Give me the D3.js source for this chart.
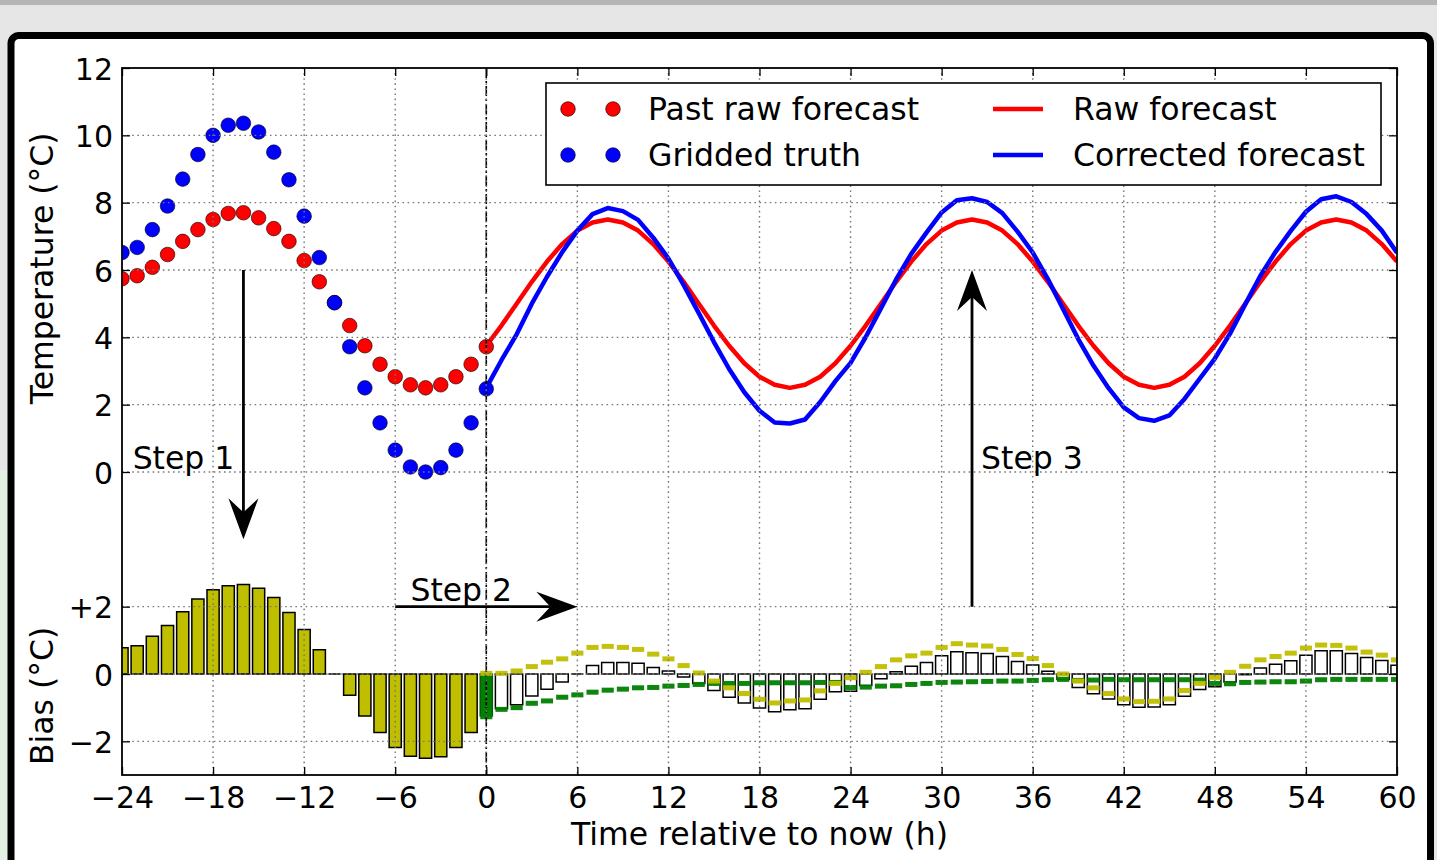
<!DOCTYPE html>
<html>
<head>
<meta charset="utf-8">
<script src="https://cdn.jsdelivr.net/npm/d3@7"></script>
<style>
  body { margin: 0; background: #e6e6e6; }
  svg { display: block; font-family: "DejaVu Sans", sans-serif; }
</style>
</head>
<body>
<svg id="chart" width="1437" height="860"></svg>
<script>
// ── Data ──────────────────────────────────────────────────────────────────────

const pastHours = [-24, -23, -22, -21, -20, -19, -18, -17, -16, -15, -14, -13, -12,
                   -11, -10, -9, -8, -7, -6, -5, -4, -3, -2, -1, 0];
const pastRaw   = [5.74, 5.83, 6.08, 6.46, 6.85, 7.20, 7.50, 7.68, 7.70, 7.55, 7.23, 6.85, 6.28,
                   5.65, 5.03, 4.35, 3.75, 3.20, 2.83, 2.59, 2.50, 2.59, 2.83, 3.20, 3.72];
const pastTruth = [6.52, 6.67, 7.20, 7.90, 8.70, 9.43, 10.00, 10.30, 10.36, 10.10, 9.50, 8.68, 7.60,
                   6.37, 5.03, 3.72, 2.50, 1.46, 0.65, 0.15, 0.00, 0.13, 0.65, 1.46, 2.47];

const futureHours = [0, 1, 2, 3, 4, 5, 6, 7, 8, 9, 10, 11, 12, 13, 14, 15, 16, 17, 18, 19, 20,
                     21, 22, 23, 24, 25, 26, 27, 28, 29, 30, 31, 32, 33, 34, 35, 36, 37, 38, 39, 40,
                     41, 42, 43, 44, 45, 46, 47, 48, 49, 50, 51, 52, 53, 54, 55, 56, 57, 58, 59, 60];
const rawForecast = [3.75, 4.35, 5.00, 5.65, 6.25, 6.77, 7.17, 7.41, 7.50, 7.41, 7.17, 6.77, 6.25,
                     5.65, 5.00, 4.35, 3.75, 3.23, 2.83, 2.59, 2.50, 2.59, 2.83, 3.23, 3.75,
                     4.35, 5.00, 5.65, 6.25, 6.77, 7.17, 7.41, 7.50, 7.41, 7.17, 6.77, 6.25,
                     5.65, 5.00, 4.35, 3.75, 3.23, 2.83, 2.59, 2.50, 2.59, 2.83, 3.23, 3.75,
                     4.35, 5.00, 5.65, 6.25, 6.77, 7.17, 7.41, 7.50, 7.41, 7.17, 6.77, 6.25];
// yellow dashes: diurnal part of the bias
const diurnalBias = [0.02, 0.02, 0.09, 0.22, 0.35, 0.45, 0.62, 0.79, 0.82, 0.79, 0.73, 0.59, 0.45,
                     0.25, 0.03, -0.21, -0.41, -0.58, -0.75, -0.86, -0.80, -0.77, -0.50, -0.28, -0.11,
                     0.05, 0.22, 0.42, 0.54, 0.62, 0.79, 0.90, 0.86, 0.83, 0.73, 0.58, 0.46,
                     0.25, 0.00, -0.21, -0.41, -0.58, -0.74, -0.82, -0.81, -0.74, -0.49, -0.28, -0.10,
                     0.05, 0.23, 0.42, 0.52, 0.62, 0.77, 0.86, 0.85, 0.77, 0.65, 0.56, 0.42];
// green dashes: persistent part of the bias
const persistBias = [-1.27, -1.05, -1.00, -0.87, -0.80, -0.69, -0.62, -0.54, -0.48, -0.45, -0.41, -0.40, -0.36,
                     -0.34, -0.31, -0.28, -0.28, -0.28, -0.26, -0.26, -0.26, -0.26, -0.25, -0.25, -0.40,
                     -0.39, -0.36, -0.35, -0.31, -0.28, -0.25, -0.24, -0.23, -0.22, -0.21, -0.21, -0.19,
                     -0.17, -0.16, -0.19, -0.18, -0.16, -0.17, -0.17, -0.17, -0.17, -0.17, -0.18, -0.28,
                     -0.29, -0.25, -0.24, -0.23, -0.23, -0.21, -0.17, -0.16, -0.16, -0.16, -0.16, -0.16];

const xTicks      = [-24, -18, -12, -6, 0, 6, 12, 18, 24, 30, 36, 42, 48, 54, 60];
const tempTicks   = [0, 2, 4, 6, 8, 10, 12];
const biasTicks   = [-2, 0, 2];
const biasLabels  = ['\u22122', '0', '+2'];

const steps = [
  { label: 'Step 1', tx: -23.3, ty: 0.1,   from: [-16, 6], to: [-16, -2] },
  { label: 'Step 2', tx: -5.0,  ty: -3.83, from: [-6, -4], to: [6, -4] },
  { label: 'Step 3', tx: 32.6,  ty: 0.1,   from: [32, -4], to: [32, 6] },
];

// ── Layout ────────────────────────────────────────────────────────────────────

const biasOffset = -6;   // bias panel zero sits at -6 on the shared axis
const L = 122, R = 1397, T = 68, B = 775;
const FS = 31.5;

const x = d3.scaleLinear().domain([-24, 60]).range([L, R]);
const y = d3.scaleLinear().domain([-9, 12]).range([B, T]);
const by = v => y(v + biasOffset);
const fmtMinus = v => (v < 0 ? '\u2212' + Math.abs(v) : String(v));

const svg = d3.select('#chart');

// page background + outer frame
svg.append('rect').attr('width', 1437).attr('height', 860).attr('fill', '#e6e6e6');
svg.append('rect').attr('width', 1437).attr('height', 5).attr('fill', '#b5b5b5');
svg.append('rect').attr('x', 0).attr('y', 470).attr('width', 8).attr('height', 390).attr('fill', '#e3f1e3');
svg.append('rect')
  .attr('x', 11).attr('y', 35.5).attr('width', 1419.5).attr('height', 900).attr('rx', 8)
  .attr('fill', '#fff').attr('stroke', '#000').attr('stroke-width', 7);

svg.append('clipPath').attr('id', 'plotClip')
  .append('rect').attr('x', L).attr('y', T).attr('width', R - L).attr('height', B - T);

const plot = svg.append('g').attr('clip-path', 'url(#plotClip)');

// ── Bias bars ─────────────────────────────────────────────────────────────────

const barPath = (h, v) =>
  `M${x(h - 0.4)},${by(0)}V${by(v)}H${x(h + 0.4)}V${by(0)}Z`;

const pastBias = pastHours
  .map((h, i) => ({ h, v: pastTruth[i] - pastRaw[i] }))
  .filter(d => d.h < 0);

plot.append('g').selectAll('path').data(pastBias).join('path')
  .attr('d', d => barPath(d.h, d.v))
  .attr('fill', '#bfbf00').attr('stroke', '#000').attr('stroke-width', 1.5);

const futureBias = futureHours.map((h, i) => ({
  h, v: diurnalBias[i] + persistBias[i], yel: diurnalBias[i], grn: persistBias[i],
}));

plot.append('g').selectAll('path').data(futureBias).join('path')
  .attr('d', d => barPath(d.h, d.v))
  .attr('fill', d => d.h === 0 ? '#008000' : '#fff')
  .attr('stroke', d => d.h === 0 ? '#0a5a0a' : '#000')
  .attr('stroke-width', 1.5);

const dash = (sel, key, color) => sel.selectAll('rect').data(futureBias).join('rect')
  .attr('x', d => x(d.h - 0.4))
  .attr('width', d => x(d.h + 0.4) - x(d.h - 0.4))
  .attr('y', d => by(d[key]) - 2.5)
  .attr('height', 5)
  .attr('fill', color).attr('opacity', 0.95);

dash(plot.append('g'), 'grn', '#008000');
dash(plot.append('g'), 'yel', '#bfbf00');

// ── Temperature ───────────────────────────────────────────────────────────────

const corrected = futureHours.map((h, i) => ({ h, v: rawForecast[i] + futureBias[i].v }));
const raw       = futureHours.map((h, i) => ({ h, v: rawForecast[i] }));

const line = d3.line().x(d => x(d.h)).y(d => y(d.v));

plot.append('path').datum(raw).attr('d', line)
  .attr('fill', 'none').attr('stroke', '#ff0000').attr('stroke-width', 4.5)
  .attr('stroke-linejoin', 'round');
plot.append('path').datum(corrected).attr('d', line)
  .attr('fill', 'none').attr('stroke', '#0000ff').attr('stroke-width', 4.5)
  .attr('stroke-linejoin', 'round');

plot.append('g').selectAll('circle').data(pastHours).join('circle')
  .attr('cx', h => x(h)).attr('cy', (h, i) => y(pastRaw[i])).attr('r', 7.3)
  .attr('fill', '#ff0000').attr('stroke', '#000').attr('stroke-width', 0.6);
plot.append('g').selectAll('circle').data(pastHours).join('circle')
  .attr('cx', h => x(h)).attr('cy', (h, i) => y(pastTruth[i])).attr('r', 7.3)
  .attr('fill', '#0000ff').attr('stroke', '#000').attr('stroke-width', 0.6);

// "now" marker
plot.append('line')
  .attr('x1', x(0)).attr('x2', x(0)).attr('y1', T).attr('y2', B)
  .attr('stroke', '#000').attr('stroke-width', 1.6).attr('stroke-dasharray', '10,3,2,3');

// ── Grid ──────────────────────────────────────────────────────────────────────

const yGridVals = tempTicks.concat(biasTicks.map(v => v + biasOffset));
const grid = svg.append('g')
  .attr('stroke', '#777').attr('stroke-width', 1.4).attr('stroke-dasharray', '1.6,3.5');
grid.selectAll('line.v').data(xTicks.slice(1, -1)).join('line').attr('class', 'v')
  .attr('x1', d => x(d)).attr('x2', d => x(d)).attr('y1', T).attr('y2', B);
grid.selectAll('line.h').data(yGridVals.filter(v => v !== 12)).join('line').attr('class', 'h')
  .attr('x1', L).attr('x2', R).attr('y1', d => y(d)).attr('y2', d => y(d));

// ── Axes ──────────────────────────────────────────────────────────────────────

const axes = svg.append('g').attr('font-size', FS);

const xAxis = axes.append('g').attr('transform', `translate(0,${B})`)
  .call(d3.axisBottom(x).tickValues(xTicks).tickSize(-8).tickPadding(0).tickFormat(fmtMinus));
xAxis.selectAll('text').attr('y', 33).attr('dy', 0).attr('font-size', 30)
  .attr('font-family', '"DejaVu Sans", sans-serif').attr('fill', '#000');

axes.append('g').attr('transform', `translate(0,${T})`)
  .call(d3.axisTop(x).tickValues(xTicks).tickSize(-8).tickFormat(''));

const yAxis = axes.append('g').attr('transform', `translate(${L},0)`)
  .call(d3.axisLeft(y).tickValues(yGridVals).tickSize(-8).tickPadding(0)
    .tickFormat(v => v >= 0 ? String(v) : biasLabels[biasTicks.indexOf(v - biasOffset)]));
yAxis.selectAll('text').attr('x', -9).attr('dy', 11).attr('font-size', 30)
  .attr('font-family', '"DejaVu Sans", sans-serif').attr('fill', '#000');

axes.append('g').attr('transform', `translate(${R},0)`)
  .call(d3.axisRight(y).tickValues(yGridVals).tickSize(-8).tickFormat(''));

axes.selectAll('.domain').remove();
axes.selectAll('.tick line').attr('stroke', '#000').attr('stroke-width', 1.3);

svg.append('rect').attr('x', L).attr('y', T).attr('width', R - L).attr('height', B - T)
  .attr('fill', 'none').attr('stroke', '#000').attr('stroke-width', 1.8);

svg.append('text').attr('x', (L + R) / 2).attr('y', 845).attr('text-anchor', 'middle')
  .attr('font-size', FS).text('Time relative to now (h)');
svg.append('text').attr('transform', `translate(53,${y(6.05)}) rotate(-90)`)
  .attr('text-anchor', 'middle').attr('font-size', FS).text('Temperature (°C)');
svg.append('text').attr('transform', `translate(53,${by(-0.65)}) rotate(-90)`)
  .attr('text-anchor', 'middle').attr('font-size', FS).text('Bias (°C)');

// ── Step arrows ───────────────────────────────────────────────────────────────

const ann = svg.append('g');
steps.forEach(s => {
  const x1 = x(s.from[0]), y1 = y(s.from[1]), x2 = x(s.to[0]), y2 = y(s.to[1]);
  const ang = Math.atan2(y2 - y1, x2 - x1) * 180 / Math.PI;
  const len = Math.hypot(x2 - x1, y2 - y1);
  const g = ann.append('g').attr('transform', `translate(${x1},${y1}) rotate(${ang})`);
  g.append('line').attr('x1', 0).attr('x2', len - 20).attr('y1', 0).attr('y2', 0)
    .attr('stroke', '#000').attr('stroke-width', 2.8);
  g.append('path')
    .attr('d', `M${len},0L${len - 41},15L${len - 27},0L${len - 41},-15Z`)
    .attr('fill', '#000');
  ann.append('text').attr('x', x(s.tx)).attr('y', y(s.ty)).attr('font-size', FS).text(s.label);
});

// ── Legend ────────────────────────────────────────────────────────────────────

const legend = svg.append('g');
legend.append('rect').attr('x', 546).attr('y', 83).attr('width', 835).attr('height', 102)
  .attr('fill', '#fff').attr('stroke', '#000').attr('stroke-width', 1.6);

const legendItems = [
  { kind: 'dot',  color: '#ff0000', label: 'Past raw forecast',  col: 0, row: 0 },
  { kind: 'dot',  color: '#0000ff', label: 'Gridded truth',      col: 0, row: 1 },
  { kind: 'line', color: '#ff0000', label: 'Raw forecast',       col: 1, row: 0 },
  { kind: 'line', color: '#0000ff', label: 'Corrected forecast', col: 1, row: 1 },
];
legendItems.forEach(it => {
  const cy = 109 + it.row * 46;
  const x0 = it.col === 0 ? 568 : 993;
  if (it.kind === 'dot') {
    [0, 45].forEach(dx => legend.append('circle').attr('cx', x0 + dx).attr('cy', cy).attr('r', 7.3)
      .attr('fill', it.color).attr('stroke', '#000').attr('stroke-width', 0.6));
  } else {
    legend.append('line').attr('x1', x0).attr('x2', x0 + 50).attr('y1', cy).attr('y2', cy)
      .attr('stroke', it.color).attr('stroke-width', 4.5);
  }
  legend.append('text').attr('x', it.col === 0 ? 648 : 1073).attr('y', cy + 11)
    .attr('font-size', FS).text(it.label);
});
</script>
</body>
</html>
